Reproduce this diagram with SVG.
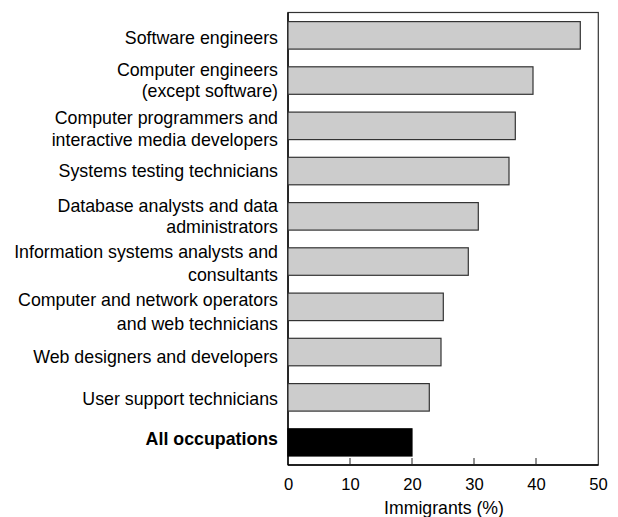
<svg xmlns="http://www.w3.org/2000/svg" width="618" height="517" viewBox="0 0 618 517">
<style>
.lbl{font-family:"Liberation Sans",Arial,sans-serif;font-size:17.8px;fill:#000;text-anchor:end}
.b{font-weight:bold}
.tick{font-family:"Liberation Sans",Arial,sans-serif;font-size:16.6px;fill:#000;text-anchor:middle}
.ttl{font-family:"Liberation Sans",Arial,sans-serif;font-size:17.7px;fill:#000;text-anchor:middle}
.bar{fill:#cccccc;stroke:#333;stroke-width:1.2}
.blk{fill:#000;stroke:#000;stroke-width:1.2}
.frame{fill:none;stroke:#333;stroke-width:1.2}
.tk{stroke:#222;stroke-width:1}
</style>
<rect width="618" height="517" fill="#fff"/>
<g id="frame">
<rect class="frame" x="288" y="12.5" width="310.3" height="452.5"/>
<line x1="288" y1="12.5" x2="288" y2="465" stroke="#000" stroke-width="1.4"/>
<line x1="288" y1="465" x2="598.3" y2="465" stroke="#000" stroke-width="1.4"/>
</g>
<g id="bars">
<rect class="bar" x="288" y="21.6" width="292.3" height="27.5"/>
<rect class="bar" x="288" y="66.8" width="245" height="27.5"/>
<rect class="bar" x="288" y="112.1" width="227.3" height="27.5"/>
<rect class="bar" x="288" y="157.3" width="221" height="27.5"/>
<rect class="bar" x="288" y="202.6" width="190.3" height="27.5"/>
<rect class="bar" x="288" y="247.8" width="180.3" height="27.5"/>
<rect class="bar" x="288" y="293.1" width="155.3" height="27.5"/>
<rect class="bar" x="288" y="338.3" width="153" height="27.5"/>
<rect class="bar" x="288" y="383.6" width="141.3" height="27.5"/>
<rect class="blk" x="288" y="428.8" width="124" height="27.2"/>
</g>
<g id="labels">
<text class="lbl" x="278" y="44">Software engineers</text>
<text class="lbl" x="278" y="76">Computer engineers</text>
<text class="lbl" x="278" y="97">(except software)</text>
<text class="lbl" x="278" y="124">Computer programmers and</text>
<text class="lbl" x="278" y="146">interactive media developers</text>
<text class="lbl" x="278" y="177">Systems testing technicians</text>
<text class="lbl" x="278" y="212">Database analysts and data</text>
<text class="lbl" x="278" y="233">administrators</text>
<text class="lbl" x="278" y="258">Information systems analysts and</text>
<text class="lbl" x="278" y="281">consultants</text>
<text class="lbl" x="278" y="305.5">Computer and network operators</text>
<text class="lbl" x="278" y="329.5">and web technicians</text>
<text class="lbl" x="278" y="362.5">Web designers and developers</text>
<text class="lbl" x="278" y="405">User support technicians</text>
<text class="lbl b" x="278" y="445">All occupations</text>
</g>
<g id="axis">
<line class="tk" x1="350" y1="458" x2="350" y2="465"/>
<line class="tk" x1="412" y1="458" x2="412" y2="465"/>
<line class="tk" x1="474" y1="458" x2="474" y2="465"/>
<line class="tk" x1="536" y1="458" x2="536" y2="465"/>
<text class="tick" x="288.5" y="489.5">0</text>
<text class="tick" x="350.5" y="489.5">10</text>
<text class="tick" x="412.5" y="489.5">20</text>
<text class="tick" x="474.5" y="489.5">30</text>
<text class="tick" x="536.5" y="489.5">40</text>
<text class="tick" x="598.5" y="489.5">50</text>
<text class="ttl" x="444" y="513.5">Immigrants (%)</text>
</g>
</svg>
